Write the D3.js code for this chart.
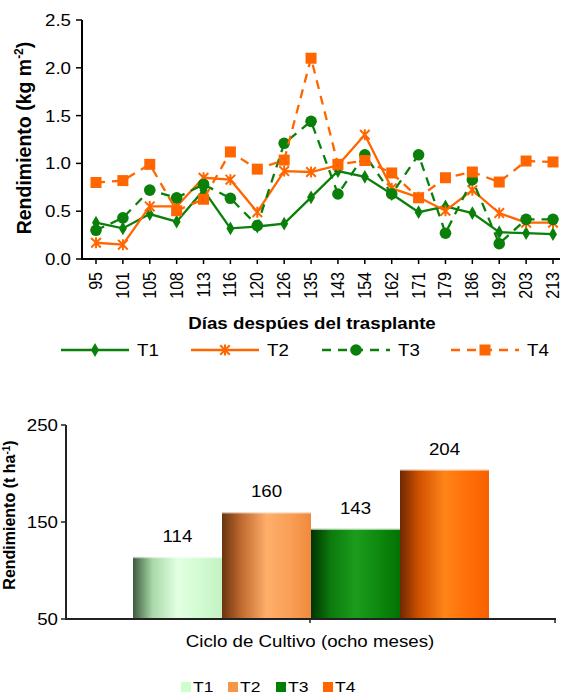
<!DOCTYPE html>
<html>
<head>
<meta charset="utf-8">
<script src="https://cdn.jsdelivr.net/npm/d3@7"></script>
<style>
  html, body { margin: 0; padding: 0; background: #fff; }
  svg text { font-family: "Liberation Sans", Arial, sans-serif; fill: #000; }
</style>
</head>
<body>
<svg id="chart" width="562" height="697"></svg>
<script>
// Days after transplant (x categories of the line chart)
const days = ["95","101","105","108","113","116","120","126","135","143","154","162","171","179","186","192","203","213"];
// Yield per harvest, kg m-2
const t1 = [0.38,0.32,0.47,0.39,0.72,0.32,0.34,0.37,0.645,0.92,0.86,0.68,0.49,0.55,0.48,0.28,0.27,0.26];
const t2 = [0.17,0.15,0.55,0.55,0.85,0.83,0.49,0.92,0.91,0.98,1.30,0.74,0.645,0.505,0.72,0.48,0.38,0.38];
const t3 = [0.30,0.43,0.72,0.64,0.78,0.635,0.35,1.21,1.44,0.68,1.09,0.68,1.09,0.27,0.83,0.16,0.415,0.415];
const t4 = [0.80,0.82,0.99,0.505,0.625,1.12,0.94,1.035,2.10,0.99,1.03,0.90,0.64,0.85,0.91,0.805,1.025,1.015];
const yTicksTop = [0, 0.5, 1.0, 1.5, 2.0, 2.5];

// Whole-cycle yield, t ha-1
const treatments = ["T1","T2","T3","T4"];
const cycleYield = [114, 160, 143, 204];
const yTicksBottom = [50, 150, 250];

const GREEN = "#0a800a", ORANGE = "#ff6600";
const SX = 1.17; // horizontal widening of glyphs

const svg = d3.select("#chart");

function label(g, x, y, txt, opts = {}) {
  const rot = opts.rotate || 0;
  const sx = opts.sx || SX;
  const t = g.append("text")
    .attr("transform", `translate(${x},${y}) scale(${sx},1) rotate(${rot})`)
    .attr("text-anchor", opts.anchor || "start")
    .attr("font-size", opts.size || 16)
    .attr("font-weight", opts.weight || "normal")
    .text(txt);
  return t;
}

/* ---------------- Line chart ---------------- */
const lineG = svg.append("g");
const x = d3.scalePoint().domain(days).range([96, 553]);
const y = d3.scaleLinear().domain([0, 2.5]).range([259, 20]);

// axes
lineG.append("line").attr("x1", 82).attr("x2", 82).attr("y1", y(2.5)).attr("y2", y(0))
  .attr("stroke", "#000").attr("stroke-width", 2);
lineG.append("line").attr("x1", 81).attr("x2", 560).attr("y1", y(0)).attr("y2", y(0))
  .attr("stroke", "#000").attr("stroke-width", 2);
yTicksTop.forEach(v => {
  lineG.append("line").attr("x1", 76).attr("x2", 82).attr("y1", y(v)).attr("y2", y(v))
    .attr("stroke", "#000").attr("stroke-width", 1.5);
  label(lineG, 71, y(v) + 6, d3.format(".1f")(v), { anchor: "end", size: 16 });
});
days.forEach(d => {
  lineG.append("line").attr("x1", x(d)).attr("x2", x(d)).attr("y1", y(0)).attr("y2", y(0) + 5)
    .attr("stroke", "#000").attr("stroke-width", 1.5);
  label(lineG, x(d) + 6, 272, d, { anchor: "end", rotate: -90, size: 16 });
});

// axis titles
const yt = label(lineG, 31, 138, "", { anchor: "middle", rotate: -90, size: 19.5, weight: "bold", sx: 1.02 });
yt.append("tspan").text("Rendimiento (kg m");
yt.append("tspan").attr("dy", -8).attr("font-size", 12).text("-2");
yt.append("tspan").attr("dy", 8).text(")");
label(lineG, 312, 329, "Días despúes del trasplante", { anchor: "middle", size: 16, weight: "bold" });

// markers
const diamond = d3.symbol().type(d3.symbolDiamond).size(55)();
const star = "M0,-5.5V5.5M-4.8,-4.8L4.8,4.8M-4.8,4.8L4.8,-4.8";
const series = [
  { name: "T1", vals: t1, color: GREEN, dash: null, marker: "diamond" },
  { name: "T2", vals: t2, color: ORANGE, dash: null, marker: "star" },
  { name: "T3", vals: t3, color: GREEN, dash: "9,7", marker: "circle" },
  { name: "T4", vals: t4, color: ORANGE, dash: "9,7", marker: "square" }
];

function drawMarker(g, type, cx, cy, color) {
  if (type === "diamond") {
    g.append("path").attr("d", diamond).attr("transform", `translate(${cx},${cy})`).attr("fill", color);
  } else if (type === "star") {
    g.append("path").attr("d", star).attr("transform", `translate(${cx},${cy})`)
      .attr("stroke", color).attr("stroke-width", 2).attr("fill", "none");
  } else if (type === "circle") {
    g.append("circle").attr("cx", cx).attr("cy", cy).attr("r", 5.8).attr("fill", color);
  } else {
    g.append("rect").attr("x", cx - 5.5).attr("y", cy - 5.5).attr("width", 11).attr("height", 11).attr("fill", color);
  }
}

const line = d3.line().x((d, i) => x(days[i])).y(d => y(d));
series.forEach(s => {
  const g = lineG.append("g");
  g.append("path").attr("d", line(s.vals)).attr("fill", "none")
    .attr("stroke", s.color).attr("stroke-width", 2.3)
    .attr("stroke-dasharray", s.dash);
  s.vals.forEach((v, i) => drawMarker(g, s.marker, x(days[i]), y(v), s.color));
});

// legend
const legX = [61, 191, 322, 451];
series.forEach((s, i) => {
  const lg = lineG.append("g");
  const x0 = legX[i], ly = 350;
  lg.append("line").attr("x1", x0).attr("x2", x0 + 68).attr("y1", ly).attr("y2", ly)
    .attr("stroke", s.color).attr("stroke-width", 2.3).attr("stroke-dasharray", s.dash);
  drawMarker(lg, s.marker, x0 + 34, ly, s.color);
  label(lg, x0 + 76, ly + 6, s.name, { size: 16 });
});

/* ---------------- Bar chart ---------------- */
const barG = svg.append("g");
const yb = d3.scaleLinear().domain([50, 250]).range([619, 425]);
const xb = d3.scaleBand().domain(treatments).range([133, 489]).padding(0);

const grads = [
  ["#3e5a3e", "#a8d8a8", "#e2ffe2", "#d2fcd2", "#c4f2c4"],
  ["#6a3410", "#c06a30", "#ffae6a", "#f9a058", "#f08a3c"],
  ["#013301", "#0c7a0c", "#1c9c1c", "#0e8a0e", "#037203"],
  ["#6e2800", "#d25200", "#ff8418", "#ff7008", "#f86000"]
];
const defs = svg.append("defs");
treatments.forEach((t, i) => {
  const lg = defs.append("linearGradient").attr("id", "g" + t)
    .attr("x1", "0").attr("x2", "1").attr("y1", "0").attr("y2", "0");
  [0, 0.22, 0.5, 0.75, 1].forEach((o, k) =>
    lg.append("stop").attr("offset", o).attr("stop-color", grads[i][k]));
});

treatments.forEach((t, i) => {
  const v = cycleYield[i];
  barG.append("rect").attr("x", xb(t)).attr("y", yb(v))
    .attr("width", xb.bandwidth()).attr("height", yb(50) - yb(v))
    .attr("fill", `url(#g${t})`);
  barG.append("line").attr("x1", xb(t)).attr("x2", xb(t) + xb.bandwidth())
    .attr("y1", yb(v) + 0.5).attr("y2", yb(v) + 0.5)
    .attr("stroke", "#fff").attr("stroke-opacity", 0.6).attr("stroke-width", 1.5);
  label(barG, xb(t) + xb.bandwidth() / 2, yb(v) - 15, String(v), { anchor: "middle", size: 16 });
});

// axes
barG.append("line").attr("x1", 66).attr("x2", 66).attr("y1", yb(250)).attr("y2", yb(50))
  .attr("stroke", "#222").attr("stroke-width", 2);
barG.append("line").attr("x1", 65).attr("x2", 556).attr("y1", yb(50)).attr("y2", yb(50))
  .attr("stroke", "#222").attr("stroke-width", 2);
yTicksBottom.forEach(v => {
  barG.append("line").attr("x1", 61).attr("x2", 66).attr("y1", yb(v)).attr("y2", yb(v))
    .attr("stroke", "#222").attr("stroke-width", 1.5);
  label(barG, 58, yb(v) + 6, String(v), { anchor: "end", size: 16 });
});
[310, 555].forEach(tx => barG.append("line").attr("x1", tx).attr("x2", tx)
  .attr("y1", yb(50)).attr("y2", yb(50) + 4).attr("stroke", "#222").attr("stroke-width", 1.5));

label(barG, 310, 647, "Ciclo de Cultivo (ocho meses)", { anchor: "middle", size: 16 });
const ybt = label(barG, 15, 515, "", { anchor: "middle", rotate: -90, size: 16, weight: "bold", sx: 1.0 });
ybt.append("tspan").text("Rendimiento (t ha");
ybt.append("tspan").attr("dy", -5).attr("font-size", 10).text("-1");
ybt.append("tspan").attr("dy", 5).text(")");

// legend
const legColors = ["#ccffcc", "#f79646", "#008000", "#ff6600"];
const legBX = [181, 228, 276, 323];
treatments.forEach((t, i) => {
  barG.append("rect").attr("x", legBX[i]).attr("y", 682).attr("width", 10).attr("height", 10)
    .attr("fill", legColors[i]);
  label(barG, legBX[i] + 12, 692, t, { size: 15 });
});
</script>
</body>
</html>
